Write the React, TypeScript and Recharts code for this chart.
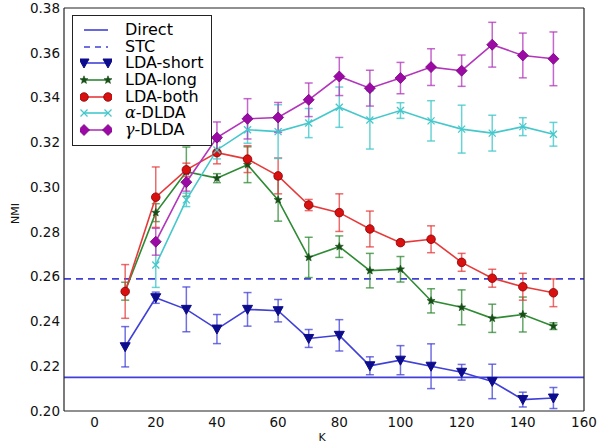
import React from "react";
import {
  ComposedChart, Line, XAxis, YAxis, ErrorBar, ReferenceLine,
} from "recharts";

// values
const kValues = [10, 20, 30, 40, 50, 60, 70, 80, 90, 100, 110, 120, 130, 140, 150];

const ldaShort = [0.2287, 0.2506, 0.2454, 0.2366, 0.2454, 0.2448, 0.2324, 0.2338, 0.2202, 0.2227, 0.22, 0.2173, 0.2132, 0.2051, 0.2058];
const ldaShortErr = [0.009, 0.0025, 0.01, 0.0065, 0.0075, 0.005, 0.004, 0.007, 0.004, 0.0065, 0.01, 0.0035, 0.0077, 0.0033, 0.0047];

const ldaLong = [0.2535, 0.2886, 0.3069, 0.304, 0.31, 0.2943, 0.2686, 0.2734, 0.2627, 0.2633, 0.2492, 0.2463, 0.2414, 0.2431, 0.2379];
const ldaLongErr = [0.004, 0.004, 0.011, 0.002, 0.008, 0.0095, 0.009, 0.0048, 0.0077, 0.0057, 0.0054, 0.0078, 0.0063, 0.0078, 0.0015];

const ldaBoth = [0.2534, 0.2955, 0.3077, 0.3154, 0.3125, 0.305, 0.292, 0.2886, 0.2813, 0.2752, 0.2767, 0.2664, 0.2593, 0.2555, 0.2528];
const ldaBothErr = [0.012, 0.0135, 0.003, 0.005, 0.006, 0.008, 0.0025, 0.0084, 0.008, 0.001, 0.006, 0.004, 0.004, 0.006, 0.0062];

const alphaDlda = [null, 0.2652, 0.2943, 0.3166, 0.3256, 0.3248, 0.3286, 0.3357, 0.33, 0.3342, 0.3296, 0.3259, 0.3241, 0.327, 0.3236];
const alphaDldaErr = [null, 0.01, 0.003, 0.004, 0.006, 0.012, 0.0065, 0.009, 0.013, 0.0035, 0.009, 0.0107, 0.008, 0.004, 0.0053];

const gammaDlda = [null, 0.2756, 0.3022, 0.3221, 0.3305, 0.3311, 0.339, 0.3494, 0.3442, 0.3487, 0.3536, 0.352, 0.3636, 0.3588, 0.3573];
const gammaDldaErr = [null, 0.006, 0.004, 0.007, 0.009, 0.0067, 0.0075, 0.0085, 0.008, 0.007, 0.0082, 0.007, 0.01, 0.01, 0.012];

const directValue = 0.215;
const stcValue = 0.259;

const xTicks = [0, 20, 40, 60, 80, 100, 120, 140, 160];
const yTicks = [0.2, 0.22, 0.24, 0.26, 0.28, 0.3, 0.32, 0.34, 0.36, 0.38];

const data = kValues.map((k, i) => ({
  k,
  short: ldaShort[i], shortErr: ldaShortErr[i],
  long: ldaLong[i], longErr: ldaLongErr[i],
  both: ldaBoth[i], bothErr: ldaBothErr[i],
  alpha: alphaDlda[i], alphaErr: alphaDldaErr[i],
  gamma: gammaDlda[i], gammaErr: gammaDldaErr[i],
}));

const FONT = "'DejaVu Sans', sans-serif";

const C = {
  blue: "#4040d8", blueMk: "#0c0c8c",
  green: "#2f8a34", greenMk: "#174d17",
  red: "#e63a3a", redMk: "#d81010", redEdge: "#8a0000",
  cyan: "#45c8cc",
  magenta: "#b235bb", magentaMk: "#9c0aa6", magentaEdge: "#7a007f",
};

// marker shapes (matplotlib style)
const triDown = (cx: number, cy: number, fill: string) =>
  <path d={`M${cx - 5},${cy - 4} L${cx + 5},${cy - 4} L${cx},${cy + 5} Z`} fill={fill} stroke={fill} strokeWidth={1} />;

const star = (cx: number, cy: number, fill: string) => {
  const pts: string[] = [];
  for (let j = 0; j < 10; j++) {
    const r = j % 2 === 0 ? 4.2 : 1.8;
    const a = -Math.PI / 2 + (j * Math.PI) / 5;
    pts.push(`${cx + r * Math.cos(a)},${cy + r * Math.sin(a)}`);
  }
  return <polygon points={pts.join(" ")} fill={fill} stroke={fill} strokeWidth={0.6} />;
};

const circle = (cx: number, cy: number) =>
  <circle cx={cx} cy={cy} r={4.3} fill={C.redMk} stroke={C.redEdge} strokeWidth={0.8} />;

const cross = (cx: number, cy: number, col: string) => (
  <g stroke={col} strokeWidth={1.3}>
    <line x1={cx - 3.5} y1={cy - 3.5} x2={cx + 3.5} y2={cy + 3.5} />
    <line x1={cx - 3.5} y1={cy + 3.5} x2={cx + 3.5} y2={cy - 3.5} />
  </g>
);

const diamond = (cx: number, cy: number) =>
  <path d={`M${cx},${cy - 5.5} L${cx + 5.5},${cy} L${cx},${cy + 5.5} L${cx - 5.5},${cy} Z`} fill={C.magentaMk} stroke={C.magentaEdge} strokeWidth={0.8} />;

const dotOf = (draw: (cx: number, cy: number) => React.ReactElement) => (p: any) => {
  if (p.cx == null || p.cy == null || p.value == null || Number.isNaN(p.cy)) return <g key={p.key ?? p.index} />;
  return <g key={p.key ?? p.index}>{draw(p.cx, p.cy)}</g>;
};

const legendRows = [
  { label: "Direct", color: C.blue, dash: "", mk: null },
  { label: "STC", color: C.blue, dash: "6 5", mk: null },
  { label: "LDA-short", color: C.blue, dash: "", mk: (x: number, y: number) => triDown(x, y, C.blueMk) },
  { label: "LDA-long", color: C.green, dash: "", mk: (x: number, y: number) => star(x, y, C.greenMk) },
  { label: "LDA-both", color: C.red, dash: "", mk: circle },
  { label: "α-DLDA", color: C.cyan, dash: "", mk: (x: number, y: number) => cross(x, y, C.cyan), greek: true },
  { label: "γ-DLDA", color: C.magenta, dash: "", mk: diamond, greek: true },
];

function LegendBox() {
  return (
    <div style={{
      position: "absolute", left: 72, top: 15, width: 140, height: 131,
      border: "1px solid #222", background: "#fff", fontFamily: FONT, fontSize: 16,
      color: "#000", paddingTop: 6, boxSizing: "border-box",
    }}>
      {legendRows.map(r => (
        <div key={r.label} style={{ height: 16.7, position: "relative" }}>
          <svg width={32} height={16} style={{ position: "absolute", left: 7, top: 0 }}>
            <line x1={4} y1={8} x2={28} y2={8} stroke={r.color} strokeWidth={1.6} strokeDasharray={r.dash || undefined} />
            {r.mk && r.mk(4, 8)}
            {r.mk && r.mk(28, 8)}
          </svg>
          <span style={{ position: "absolute", left: 52, top: 0, height: 16, lineHeight: "16px", whiteSpace: "nowrap" }}>
            {r.greek
              ? <><span style={{ fontFamily: "'DejaVu Serif', serif", fontStyle: "italic" }}>{r.label[0]}</span>{r.label.slice(1)}</>
              : r.label}
          </span>
        </div>
      ))}
    </div>
  );
}

const tickStyle = { fontSize: 13.5, fill: "#111", fontFamily: FONT };

export default function App() {
  return (
    <div style={{ position: "absolute", left: 0, top: 0, width: 616, height: 445, background: "#fff" }}>
      <ComposedChart width={616} height={445} data={data} margin={{ top: 8, right: 32, bottom: 14, left: 8 }}>
        <XAxis
          xAxisId="x" dataKey="k" type="number" domain={[-10, 160]} ticks={xTicks} allowDataOverflow
          height={20} tickSize={0} tickMargin={6} tickLine={false} axisLine={{ stroke: "#222", strokeWidth: 1.2 }}
          tick={tickStyle}
          label={{
            content: (p: any) => (
              <text x={p.viewBox.x + p.viewBox.width / 2 - 2} y={p.viewBox.y + p.viewBox.height + 10}
                textAnchor="middle" fontSize={11} fontFamily={FONT} fill="#111">K</text>
            ),
          }}
        />
        <XAxis xAxisId="xb" type="number" domain={[-10, 160]} ticks={xTicks} allowDataOverflow
          orientation="bottom" mirror tick={false} tickSize={5} axisLine={false} tickLine={{ stroke: "#222" }} />
        <XAxis xAxisId="xt" type="number" domain={[-10, 160]} ticks={xTicks} allowDataOverflow
          orientation="top" mirror tick={false} tickSize={5} axisLine={{ stroke: "#222", strokeWidth: 1.2 }} tickLine={{ stroke: "#222" }} />
        <YAxis
          yAxisId="y" type="number" domain={[0.2, 0.38]} ticks={yTicks} allowDataOverflow
          width={56} tickSize={0} tickMargin={4} tickLine={false} axisLine={{ stroke: "#222", strokeWidth: 1.2 }}
          tick={tickStyle} tickFormatter={(v: number) => v.toFixed(2)}
          label={{
            content: (p: any) => {
              const x = p.viewBox.x + 8;
              const y = p.viewBox.y + p.viewBox.height / 2 + 4;
              return (
                <text x={x} y={y} transform={`rotate(-90 ${x} ${y})`} textAnchor="middle"
                  dominantBaseline="middle" fontSize={11} fontFamily={FONT} fill="#111">NMI</text>
              );
            },
          }}
        />
        <YAxis yAxisId="yl" type="number" domain={[0.2, 0.38]} ticks={yTicks} allowDataOverflow
          orientation="left" mirror tick={false} tickSize={5} axisLine={false} tickLine={{ stroke: "#222" }} />
        <YAxis yAxisId="yr" type="number" domain={[0.2, 0.38]} ticks={yTicks} allowDataOverflow
          orientation="right" mirror tick={false} tickSize={5} axisLine={{ stroke: "#222", strokeWidth: 1.2 }} tickLine={{ stroke: "#222" }} />

        <ReferenceLine xAxisId="x" yAxisId="y" y={directValue} stroke={C.blue} strokeWidth={1.6} />
        <ReferenceLine xAxisId="x" yAxisId="y" y={stcValue} stroke={C.blue} strokeWidth={1.6} strokeDasharray="7 5" />

        <Line xAxisId="x" yAxisId="y" dataKey="short" stroke={C.blue} strokeWidth={1.6} isAnimationActive={false}
          dot={dotOf((x, y) => triDown(x, y, C.blueMk))} activeDot={false}>
          <ErrorBar dataKey="shortErr" direction="y" width={4} stroke={C.blue} strokeOpacity={0.75} strokeWidth={1.5} isAnimationActive={false} />
        </Line>
        <Line xAxisId="x" yAxisId="y" dataKey="long" stroke={C.green} strokeWidth={1.6} isAnimationActive={false}
          dot={dotOf((x, y) => star(x, y, C.greenMk))} activeDot={false}>
          <ErrorBar dataKey="longErr" direction="y" width={4} stroke={C.green} strokeOpacity={0.75} strokeWidth={1.5} isAnimationActive={false} />
        </Line>
        <Line xAxisId="x" yAxisId="y" dataKey="both" stroke={C.red} strokeWidth={1.6} isAnimationActive={false}
          dot={dotOf(circle)} activeDot={false}>
          <ErrorBar dataKey="bothErr" direction="y" width={4} stroke={C.red} strokeOpacity={0.75} strokeWidth={1.5} isAnimationActive={false} />
        </Line>
        <Line xAxisId="x" yAxisId="y" dataKey="alpha" stroke={C.cyan} strokeWidth={1.6} isAnimationActive={false}
          dot={dotOf((x, y) => cross(x, y, C.cyan))} activeDot={false}>
          <ErrorBar dataKey="alphaErr" direction="y" width={4} stroke={C.cyan} strokeOpacity={0.8} strokeWidth={1.5} isAnimationActive={false} />
        </Line>
        <Line xAxisId="x" yAxisId="y" dataKey="gamma" stroke={C.magenta} strokeWidth={1.6} isAnimationActive={false}
          dot={dotOf(diamond)} activeDot={false}>
          <ErrorBar dataKey="gammaErr" direction="y" width={4} stroke={C.magenta} strokeOpacity={0.75} strokeWidth={1.5} isAnimationActive={false} />
        </Line>
      </ComposedChart>
      <LegendBox />
    </div>
  );
}
